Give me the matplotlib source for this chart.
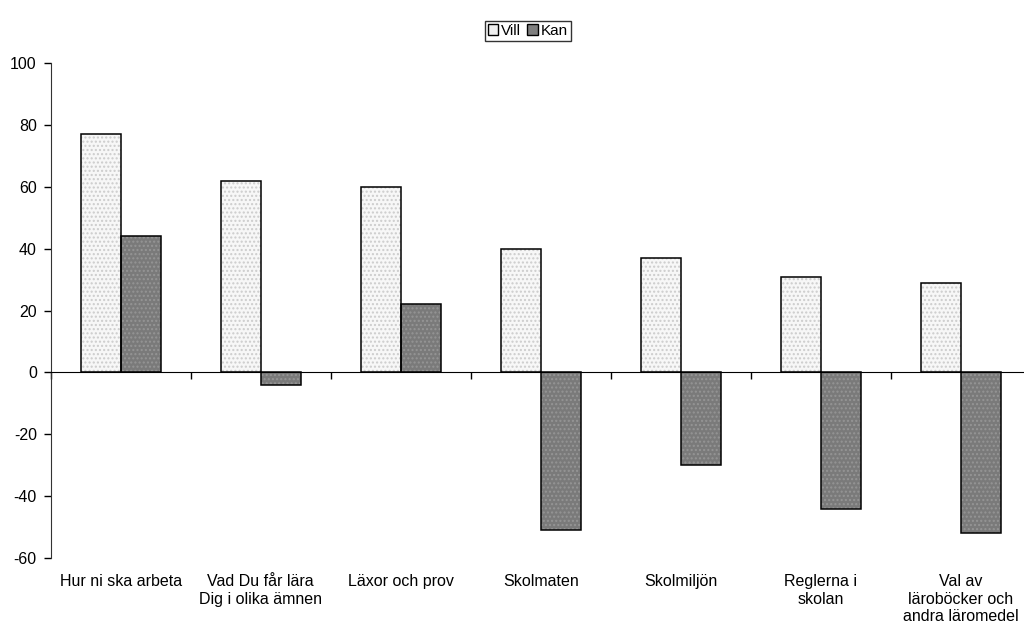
import numpy as np
import matplotlib
matplotlib.use('Agg')
import matplotlib.pyplot as plt

plt.rcParams['font.family'] = ['Liberation Sans', 'DejaVu Sans']
plt.rcParams['axes.unicode_minus'] = False
plt.rcParams['hatch.linewidth'] = 1.0

categories = ['Hur ni ska arbeta', 'Vad Du får lära\nDig i olika ämnen', 'Läxor och prov',
              'Skolmaten', 'Skolmiljön', 'Reglerna i\nskolan',
              'Val av\nläroböcker och\nandra läromedel']
vill = [77, 62, 60, 40, 37, 31, 29]
kan = [44, -4, 22, -51, -30, -44, -52]

fig = plt.figure(figsize=(10.24, 6.32), dpi=100)
# axes runs past the right edge of the figure, like the original
ax = fig.add_axes([0.0495, 0.1171, 0.957, 0.7827])

x = np.arange(len(categories))
w = 0.2857
# filled dotted bars first, black outlines on top
ax.bar(x - w / 2, vill, w, color='#f7f7f7', edgecolor='#cccccc', hatch='....', linewidth=0)
ax.bar(x + w / 2, kan, w, color='#7a7a7a', edgecolor='#959595', hatch='....', linewidth=0)
ax.bar(x - w / 2, vill, w, fill=False, edgecolor='black', linewidth=1.1)
ax.bar(x + w / 2, kan, w, fill=False, edgecolor='black', linewidth=1.1)

ax.set_xlim(-0.5, len(categories) - 0.5)
ax.set_ylim(-60, 100)
ax.set_yticks(np.arange(-60, 101, 20))
ax.tick_params(axis='y', direction='out', length=5, labelsize=11.5, width=1, pad=5)

ax.spines['top'].set_visible(False)
ax.spines['right'].set_visible(False)
ax.spines['bottom'].set_position(('data', 0))
ax.spines['left'].set_color('#333333')

ax.set_xticks(np.arange(-0.5, len(categories), 1))
ax.set_xticklabels([])
ax.tick_params(axis='x', direction='out', length=5, width=1)
for i, c in enumerate(categories):
    ax.text(i, -0.033, c, transform=ax.get_xaxis_transform(), ha='center', va='top',
            fontsize=11.5, linespacing=1.2)

handles = [plt.Rectangle((0, 0), 1, 1, facecolor='#f0f0f0', edgecolor='black'),
           plt.Rectangle((0, 0), 1, 1, facecolor='#7f7f7f', edgecolor='black')]
leg = fig.legend(handles, ['Vill', 'Kan'], loc='center',
                 bbox_to_anchor=(528 / 1024, 1 - 31 / 632), ncol=2,
                 frameon=True, fancybox=False, edgecolor='black', fontsize=11,
                 handlelength=0.7, handleheight=0.7, handletextpad=0.2, columnspacing=0.4,
                 borderpad=0.2, borderaxespad=0)
leg.get_frame().set_linewidth(1)

fig.savefig('out.png', dpi=100)
